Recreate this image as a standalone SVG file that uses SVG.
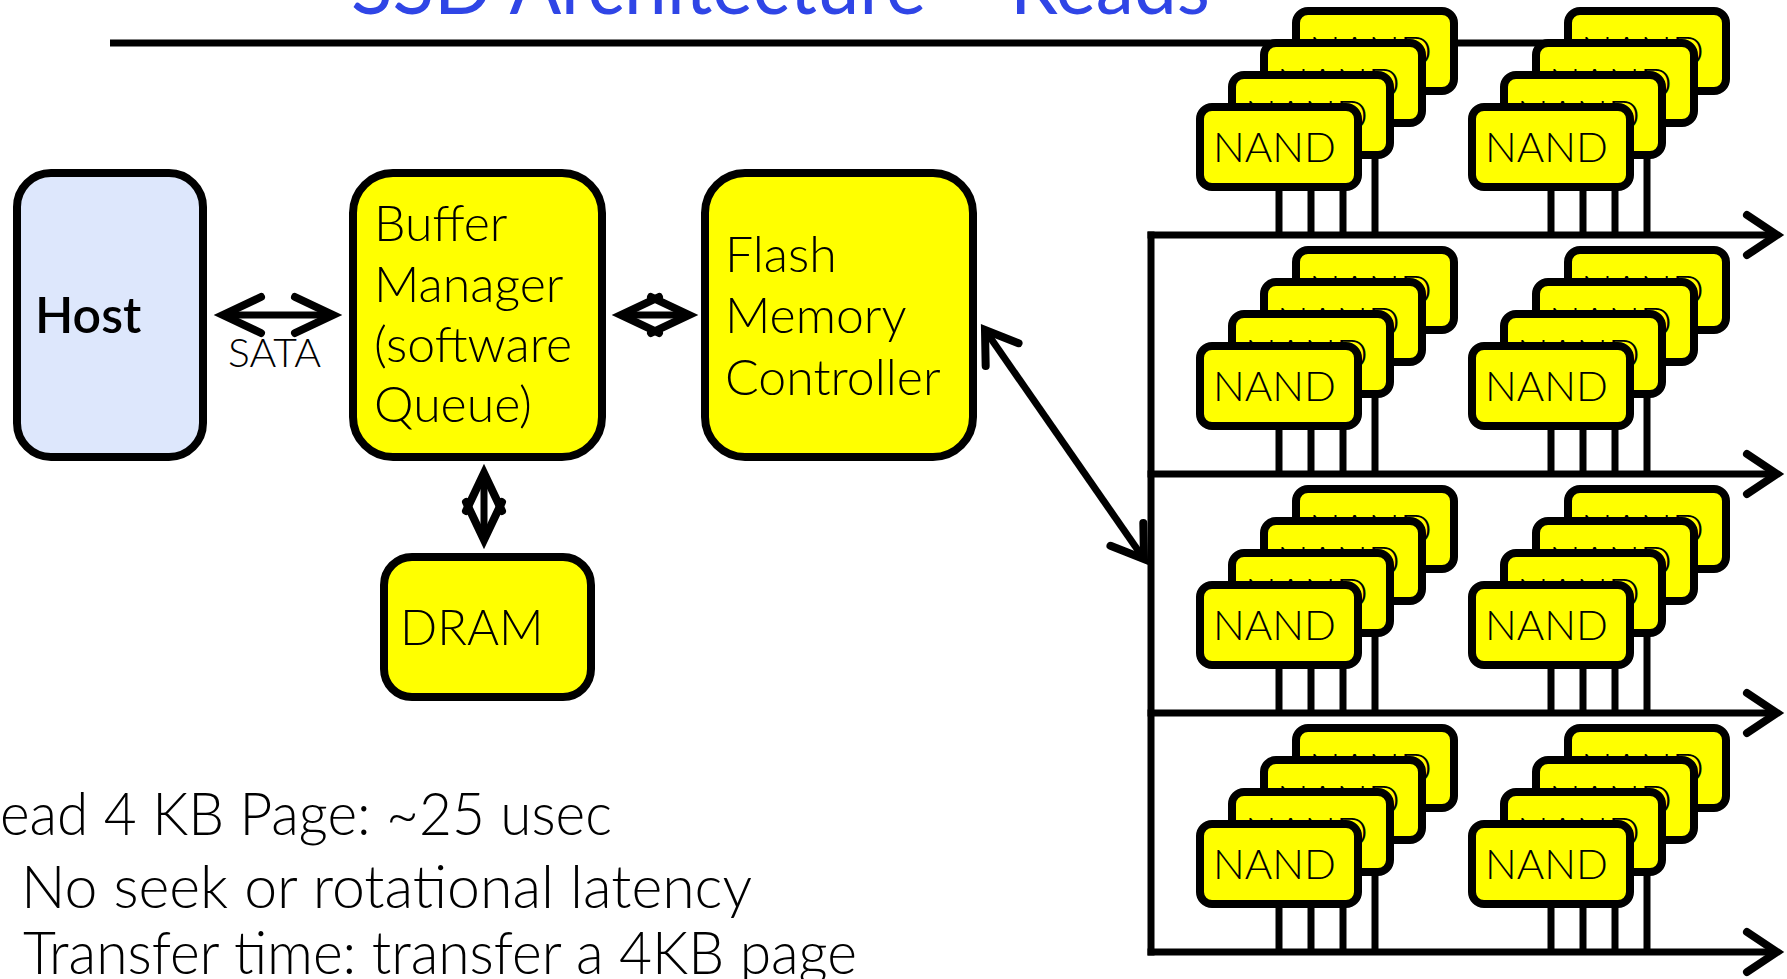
<svg xmlns="http://www.w3.org/2000/svg" width="1787" height="979" viewBox="0 0 1787 979">
<style>
  .box { stroke: #000; stroke-width: 8; }
  .yellow { fill: #ffff00; }
  .host { fill: #dde7fc; }
  .chip { fill: #ffff00; stroke: #000; stroke-width: 8; }
  .t { font-family: Lato, "Open Sans", "Liberation Sans", sans-serif; font-weight: 300; fill: #000; }
  .nand { font-family: Lato, "Open Sans", "Liberation Sans", sans-serif; font-weight: 300; font-size: 42px; fill: #000; }
  .wire { stroke: #000; stroke-width: 7; fill: none; }
  .pin { stroke: #000; stroke-width: 7; }
  .conn { stroke: #000; stroke-width: 7; fill: none; }
</style>
<defs>
  <marker id="chev" markerUnits="userSpaceOnUse" viewBox="-50 -30 60 60" refX="0" refY="0" markerWidth="60" markerHeight="60" orient="auto-start-reverse" overflow="visible">
    <path d="M -38 -18 L 0 0 L -38 18" fill="none" stroke="#000" stroke-width="8" stroke-linecap="round" stroke-linejoin="miter"/>
  </marker>
  <marker id="chevw" markerUnits="userSpaceOnUse" viewBox="-50 -30 60 60" refX="0" refY="0" markerWidth="60" markerHeight="60" orient="auto-start-reverse" overflow="visible">
    <path d="M -30 -20 L 0 0 L -30 20" fill="none" stroke="#000" stroke-width="8" stroke-linecap="round" stroke-linejoin="miter"/>
  </marker>
</defs>
<rect width="1787" height="979" fill="#fff"/>

<g id="title">
  <text x="351" y="14" font-family="Lato, 'Open Sans', 'Liberation Sans', sans-serif" font-size="80" fill="#2f45e6" textLength="859" lengthAdjust="spacingAndGlyphs">SSD Architecture – Reads</text>
  <line x1="110" y1="43" x2="1600" y2="43" stroke="#000" stroke-width="7"/>
</g>

<g id="connectors">
  <line class="conn" x1="223" y1="315" x2="333" y2="315" marker-start="url(#chev)" marker-end="url(#chev)"/>
  <line class="conn" x1="621" y1="315" x2="689" y2="315" marker-start="url(#chev)" marker-end="url(#chev)"/>
  <line class="conn" x1="484" y1="473" x2="484" y2="540" marker-start="url(#chev)" marker-end="url(#chev)"/>
  <line class="conn" x1="985" y1="330" x2="1144" y2="559" marker-start="url(#chevw)" marker-end="url(#chevw)"/>
  <line class="wire" x1="1151" y1="231.5" x2="1151" y2="955.5"/>
  <line class="wire" x1="1147.5" y1="235" x2="1777" y2="235" marker-end="url(#chevw)"/>
  <line class="wire" x1="1147.5" y1="474" x2="1777" y2="474" marker-end="url(#chevw)"/>
  <line class="wire" x1="1147.5" y1="713" x2="1777" y2="713" marker-end="url(#chevw)"/>
  <line class="wire" x1="1147.5" y1="952" x2="1777" y2="952" marker-end="url(#chevw)"/>
  <text class="t" x="228" y="367" font-size="39" textLength="93" lengthAdjust="spacingAndGlyphs">SATA</text>
</g>

<g id="host">
  <rect class="box host" x="17" y="173" width="186" height="284" rx="34"/>
  <text x="35" y="333" font-family="Lato, 'Open Sans', 'Liberation Sans', sans-serif" font-weight="600" font-size="50" fill="#000">Host</text>
</g>

<g id="buffer-manager">
  <rect class="box yellow" x="353" y="173" width="249" height="284" rx="40"/>
  <text class="t" font-size="50"><tspan x="374" y="241">Buffer</tspan><tspan x="374" y="302">Manager</tspan><tspan x="374" y="362">(software</tspan><tspan x="374" y="422">Queue)</tspan></text>
</g>

<g id="flash-memory-controller">
  <rect class="box yellow" x="705" y="173" width="268" height="284" rx="40"/>
  <text class="t" font-size="50"><tspan x="725" y="272">Flash</tspan><tspan x="725" y="333">Memory</tspan><tspan x="725" y="395">Controller</tspan></text>
</g>

<g id="dram">
  <rect class="box yellow" x="384" y="557" width="207" height="140" rx="28"/>
  <text class="t" x="400" y="645" font-size="49">DRAM</text>
</g>

<g id="nand-r1-c1">
  <line class="pin" x1="1279" y1="107" x2="1279" y2="235"/><line class="pin" x1="1311" y1="107" x2="1311" y2="235"/><line class="pin" x1="1343" y1="107" x2="1343" y2="235"/><line class="pin" x1="1375" y1="107" x2="1375" y2="235"/>
  <rect class="chip" x="1296" y="11" width="158" height="80" rx="12"/><text class="nand" x="1309" y="66">NAND</text>
  <rect class="chip" x="1264" y="43" width="158" height="80" rx="12"/><text class="nand" x="1277" y="98">NAND</text>
  <rect class="chip" x="1232" y="75" width="158" height="80" rx="12"/><text class="nand" x="1245" y="130">NAND</text>
  <rect class="chip" x="1200" y="107" width="158" height="80" rx="12"/><text class="nand" x="1213" y="162">NAND</text>
</g>
<g id="nand-r1-c2">
  <line class="pin" x1="1551" y1="107" x2="1551" y2="235"/><line class="pin" x1="1583" y1="107" x2="1583" y2="235"/><line class="pin" x1="1615" y1="107" x2="1615" y2="235"/><line class="pin" x1="1647" y1="107" x2="1647" y2="235"/>
  <rect class="chip" x="1568" y="11" width="158" height="80" rx="12"/><text class="nand" x="1581" y="66">NAND</text>
  <rect class="chip" x="1536" y="43" width="158" height="80" rx="12"/><text class="nand" x="1549" y="98">NAND</text>
  <rect class="chip" x="1504" y="75" width="158" height="80" rx="12"/><text class="nand" x="1517" y="130">NAND</text>
  <rect class="chip" x="1472" y="107" width="158" height="80" rx="12"/><text class="nand" x="1485" y="162">NAND</text>
</g>
<g id="nand-r2-c1">
  <line class="pin" x1="1279" y1="346" x2="1279" y2="474"/><line class="pin" x1="1311" y1="346" x2="1311" y2="474"/><line class="pin" x1="1343" y1="346" x2="1343" y2="474"/><line class="pin" x1="1375" y1="346" x2="1375" y2="474"/>
  <rect class="chip" x="1296" y="250" width="158" height="80" rx="12"/><text class="nand" x="1309" y="305">NAND</text>
  <rect class="chip" x="1264" y="282" width="158" height="80" rx="12"/><text class="nand" x="1277" y="337">NAND</text>
  <rect class="chip" x="1232" y="314" width="158" height="80" rx="12"/><text class="nand" x="1245" y="369">NAND</text>
  <rect class="chip" x="1200" y="346" width="158" height="80" rx="12"/><text class="nand" x="1213" y="401">NAND</text>
</g>
<g id="nand-r2-c2">
  <line class="pin" x1="1551" y1="346" x2="1551" y2="474"/><line class="pin" x1="1583" y1="346" x2="1583" y2="474"/><line class="pin" x1="1615" y1="346" x2="1615" y2="474"/><line class="pin" x1="1647" y1="346" x2="1647" y2="474"/>
  <rect class="chip" x="1568" y="250" width="158" height="80" rx="12"/><text class="nand" x="1581" y="305">NAND</text>
  <rect class="chip" x="1536" y="282" width="158" height="80" rx="12"/><text class="nand" x="1549" y="337">NAND</text>
  <rect class="chip" x="1504" y="314" width="158" height="80" rx="12"/><text class="nand" x="1517" y="369">NAND</text>
  <rect class="chip" x="1472" y="346" width="158" height="80" rx="12"/><text class="nand" x="1485" y="401">NAND</text>
</g>
<g id="nand-r3-c1">
  <line class="pin" x1="1279" y1="585" x2="1279" y2="713"/><line class="pin" x1="1311" y1="585" x2="1311" y2="713"/><line class="pin" x1="1343" y1="585" x2="1343" y2="713"/><line class="pin" x1="1375" y1="585" x2="1375" y2="713"/>
  <rect class="chip" x="1296" y="489" width="158" height="80" rx="12"/><text class="nand" x="1309" y="544">NAND</text>
  <rect class="chip" x="1264" y="521" width="158" height="80" rx="12"/><text class="nand" x="1277" y="576">NAND</text>
  <rect class="chip" x="1232" y="553" width="158" height="80" rx="12"/><text class="nand" x="1245" y="608">NAND</text>
  <rect class="chip" x="1200" y="585" width="158" height="80" rx="12"/><text class="nand" x="1213" y="640">NAND</text>
</g>
<g id="nand-r3-c2">
  <line class="pin" x1="1551" y1="585" x2="1551" y2="713"/><line class="pin" x1="1583" y1="585" x2="1583" y2="713"/><line class="pin" x1="1615" y1="585" x2="1615" y2="713"/><line class="pin" x1="1647" y1="585" x2="1647" y2="713"/>
  <rect class="chip" x="1568" y="489" width="158" height="80" rx="12"/><text class="nand" x="1581" y="544">NAND</text>
  <rect class="chip" x="1536" y="521" width="158" height="80" rx="12"/><text class="nand" x="1549" y="576">NAND</text>
  <rect class="chip" x="1504" y="553" width="158" height="80" rx="12"/><text class="nand" x="1517" y="608">NAND</text>
  <rect class="chip" x="1472" y="585" width="158" height="80" rx="12"/><text class="nand" x="1485" y="640">NAND</text>
</g>
<g id="nand-r4-c1">
  <line class="pin" x1="1279" y1="824" x2="1279" y2="952"/><line class="pin" x1="1311" y1="824" x2="1311" y2="952"/><line class="pin" x1="1343" y1="824" x2="1343" y2="952"/><line class="pin" x1="1375" y1="824" x2="1375" y2="952"/>
  <rect class="chip" x="1296" y="728" width="158" height="80" rx="12"/><text class="nand" x="1309" y="783">NAND</text>
  <rect class="chip" x="1264" y="760" width="158" height="80" rx="12"/><text class="nand" x="1277" y="815">NAND</text>
  <rect class="chip" x="1232" y="792" width="158" height="80" rx="12"/><text class="nand" x="1245" y="847">NAND</text>
  <rect class="chip" x="1200" y="824" width="158" height="80" rx="12"/><text class="nand" x="1213" y="879">NAND</text>
</g>
<g id="nand-r4-c2">
  <line class="pin" x1="1551" y1="824" x2="1551" y2="952"/><line class="pin" x1="1583" y1="824" x2="1583" y2="952"/><line class="pin" x1="1615" y1="824" x2="1615" y2="952"/><line class="pin" x1="1647" y1="824" x2="1647" y2="952"/>
  <rect class="chip" x="1568" y="728" width="158" height="80" rx="12"/><text class="nand" x="1581" y="783">NAND</text>
  <rect class="chip" x="1536" y="760" width="158" height="80" rx="12"/><text class="nand" x="1549" y="815">NAND</text>
  <rect class="chip" x="1504" y="792" width="158" height="80" rx="12"/><text class="nand" x="1517" y="847">NAND</text>
  <rect class="chip" x="1472" y="824" width="158" height="80" rx="12"/><text class="nand" x="1485" y="879">NAND</text>
</g>

<g id="notes">
  <text class="t" x="0" y="835" font-size="60" textLength="612" lengthAdjust="spacingAndGlyphs">ead 4 KB Page: ~25 usec</text>
  <text class="t" x="21" y="908" font-size="60" textLength="731" lengthAdjust="spacingAndGlyphs">No seek or rotational latency</text>
  <text class="t" x="23" y="974" font-size="60" textLength="834" lengthAdjust="spacingAndGlyphs">Transfer time: transfer a 4KB page</text>
</g>
</svg>
